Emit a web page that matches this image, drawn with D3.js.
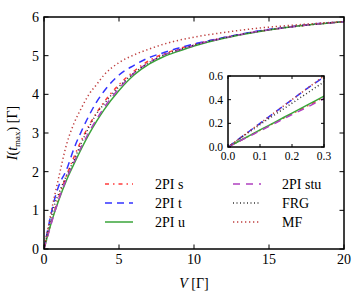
<!DOCTYPE html>
<html>
<head>
<meta charset="utf-8">
<script src="https://cdnjs.cloudflare.com/ajax/libs/d3/7.8.5/d3.min.js"></script>
<style>
  html, body { margin: 0; padding: 0; background: #fff; }
  svg { display: block; }
</style>
</head>
<body>
<div id="chart"></div>
<script>
// V grid (in units of Gamma)
const vGrid = [0, 0.05, 0.1, 0.15, 0.2, 0.25, 0.3, 0.5, 0.75, 1, 1.5, 2, 2.5, 3, 3.5, 4, 5, 6, 7, 8, 9, 10, 12, 14, 16, 18, 20];

const curS   = [0, 0.07, 0.14, 0.21, 0.28, 0.35, 0.42, 0.72, 1.05, 1.35, 1.9, 2.38, 2.82, 3.2, 3.52, 3.8, 4.25, 4.6, 4.87, 5.05, 5.18, 5.29, 5.47, 5.61, 5.72, 5.81, 5.88];
const curT   = [0, 0.1, 0.2, 0.3, 0.4, 0.5, 0.59, 0.95, 1.35, 1.65, 2.05, 2.6, 3.05, 3.45, 3.8, 4.08, 4.5, 4.75, 4.95, 5.08, 5.2, 5.3, 5.47, 5.62, 5.73, 5.82, 5.88];
const curU   = [0, 0.072, 0.144, 0.215, 0.287, 0.358, 0.43, 0.7, 1.0, 1.28, 1.78, 2.2, 2.6, 2.97, 3.3, 3.6, 4.1, 4.5, 4.78, 4.98, 5.12, 5.25, 5.45, 5.6, 5.72, 5.81, 5.88];
const curStu = [0, 0.068, 0.136, 0.205, 0.273, 0.34, 0.41, 0.68, 1.0, 1.3, 1.82, 2.25, 2.65, 3.02, 3.35, 3.65, 4.15, 4.55, 4.82, 5.02, 5.15, 5.27, 5.46, 5.61, 5.72, 5.81, 5.88];
const curFRG = [0, 0.095, 0.19, 0.28, 0.37, 0.46, 0.55, 0.85, 1.2, 1.45, 1.9, 2.3, 2.75, 3.15, 3.5, 3.75, 4.2, 4.55, 4.82, 5.02, 5.15, 5.27, 5.46, 5.61, 5.72, 5.81, 5.88];
const curMF  = [0, 0.1, 0.2, 0.3, 0.4, 0.5, 0.6, 1.0, 1.45, 1.88, 2.7, 3.25, 3.65, 4.0, 4.25, 4.5, 4.82, 5.02, 5.17, 5.3, 5.4, 5.48, 5.6, 5.7, 5.77, 5.83, 5.88];

const seriesNames = ["2PI s", "2PI t", "2PI u", "2PI stu", "FRG", "MF"];
const seriesVals = [curS, curT, curU, curStu, curFRG, curMF];

const xTicks = [0, 5, 10, 15, 20];
const yTicks = [0, 1, 2, 3, 4, 5, 6];
const insetXTicks = [0, 0.1, 0.2, 0.3];
const insetYTicks = [0, 0.2, 0.4, 0.6];

(function() {
  const width = 362, height = 300;
  const margin = { top: 17, right: 18, bottom: 51, left: 44 };
  const serif = "'Liberation Serif', 'Times New Roman', Times, 'DejaVu Serif', serif";

  const styles = [
    { color: "#ff3b3b", dash: "4,4,1.5,4" },
    { color: "#3333ff", dash: "7,5" },
    { color: "#3aa53a", dash: null },
    { color: "#b040c0", dash: "7,6" },
    { color: "#333333", dash: "1,2.5" },
    { color: "#bf4040", dash: "1.3,2.7" }
  ];

  const series = seriesNames.map((name, i) => ({
    name,
    style: styles[i],
    pts: vGrid.map((v, j) => ({ v, i: seriesVals[i][j] }))
  }));

  const svg = d3.select("#chart").append("svg")
    .attr("width", width).attr("height", height)
    .attr("font-family", serif)
    .style("font-family", serif);

  const x = d3.scaleLinear().domain([0, 20]).range([margin.left, width - margin.right]);
  const y = d3.scaleLinear().domain([0, 6]).range([height - margin.bottom, margin.top]);

  const drawPanel = (g, xs, ys, xt, yt, fmt, tickLen, fontSize, clipId, labelGap) => {
    const [x0, x1] = xs.range();
    const [y0, y1] = ys.range();
    g.append("clipPath").attr("id", clipId)
      .append("rect").attr("x", x0).attr("y", y1).attr("width", x1 - x0).attr("height", y0 - y1);

    const line = d3.line().x(d => xs(d.v)).y(d => ys(d.i)).curve(d3.curveMonotoneX);
    g.append("g").attr("clip-path", `url(#${clipId})`)
      .selectAll("path").data(series).join("path")
      .attr("fill", "none")
      .attr("stroke", d => d.style.color)
      .attr("stroke-width", 1.5)
      .attr("stroke-dasharray", d => d.style.dash)
      .attr("d", d => line(d.pts));

    // inward ticks on all four sides
    const tk = g.append("g").attr("stroke", "#000").attr("stroke-width", 1);
    xt.forEach(t => {
      tk.append("line").attr("x1", xs(t)).attr("x2", xs(t)).attr("y1", y0).attr("y2", y0 - tickLen);
      tk.append("line").attr("x1", xs(t)).attr("x2", xs(t)).attr("y1", y1).attr("y2", y1 + tickLen);
    });
    yt.forEach(t => {
      tk.append("line").attr("y1", ys(t)).attr("y2", ys(t)).attr("x1", x0).attr("x2", x0 + tickLen);
      tk.append("line").attr("y1", ys(t)).attr("y2", ys(t)).attr("x1", x1).attr("x2", x1 - tickLen);
    });

    g.append("rect").attr("x", x0).attr("y", y1).attr("width", x1 - x0).attr("height", y0 - y1)
      .attr("fill", "none").attr("stroke", "#000").attr("stroke-width", 1.5);

    g.append("g").selectAll("text").data(xt).join("text")
      .attr("x", d => xs(d)).attr("y", y0 + labelGap + fontSize * 0.7)
      .attr("text-anchor", "middle").attr("font-size", fontSize)
      .text(fmt);
    g.append("g").selectAll("text").data(yt).join("text")
      .attr("x", x0 - labelGap).attr("y", d => ys(d) + fontSize * 0.35)
      .attr("text-anchor", "end").attr("font-size", fontSize)
      .text(fmt);
  };

  drawPanel(svg.append("g"), x, y, xTicks, yTicks, d => d, 4.5, 14, "clipMain", 5);

  // inset
  const xi = d3.scaleLinear().domain([0, 0.3]).range([228, 324]);
  const yi = d3.scaleLinear().domain([0, 0.6]).range([147, 76]);
  const inset = svg.append("g");
  inset.append("rect").attr("x", 228).attr("y", 76).attr("width", 96).attr("height", 71).attr("fill", "#fff");
  drawPanel(inset, xi, yi, insetXTicks, insetYTicks, d3.format(".1f"), 3, 11.5, "clipInset", 5);

  // legend (two columns, no frame)
  const leg = svg.append("g").attr("font-size", 14);
  series.forEach((s, i) => {
    const col = Math.floor(i / 3), row = i % 3;
    const hx = col === 0 ? 105 : 233;
    const tx = col === 0 ? 155 : 282;
    const yy = 184 + row * 19;
    leg.append("line").attr("x1", hx).attr("x2", hx + 28).attr("y1", yy).attr("y2", yy)
      .attr("stroke", s.style.color).attr("stroke-width", 1.5)
      .attr("stroke-dasharray", s.style.dash);
    leg.append("text").attr("x", tx).attr("y", yy + 4.5).text(s.name);
  });

  // axis labels
  const xl = svg.append("text").attr("x", x(10)).attr("y", 288)
    .attr("text-anchor", "middle").attr("font-size", 14);
  xl.append("tspan").attr("font-style", "italic").text("V");
  xl.append("tspan").text(" [Γ]");

  const yl = svg.append("text")
    .attr("transform", `translate(17, ${(y(0) + y(6)) / 2}) rotate(-90)`)
    .attr("text-anchor", "middle").attr("font-size", 14);
  yl.append("tspan").attr("font-style", "italic").text("I");
  yl.append("tspan").text("(");
  yl.append("tspan").attr("font-style", "italic").text("t");
  yl.append("tspan").attr("font-size", 9).attr("dy", 3).text("max");
  yl.append("tspan").attr("dy", -3).text(") [Γ]");
})();
</script>
</body>
</html>
